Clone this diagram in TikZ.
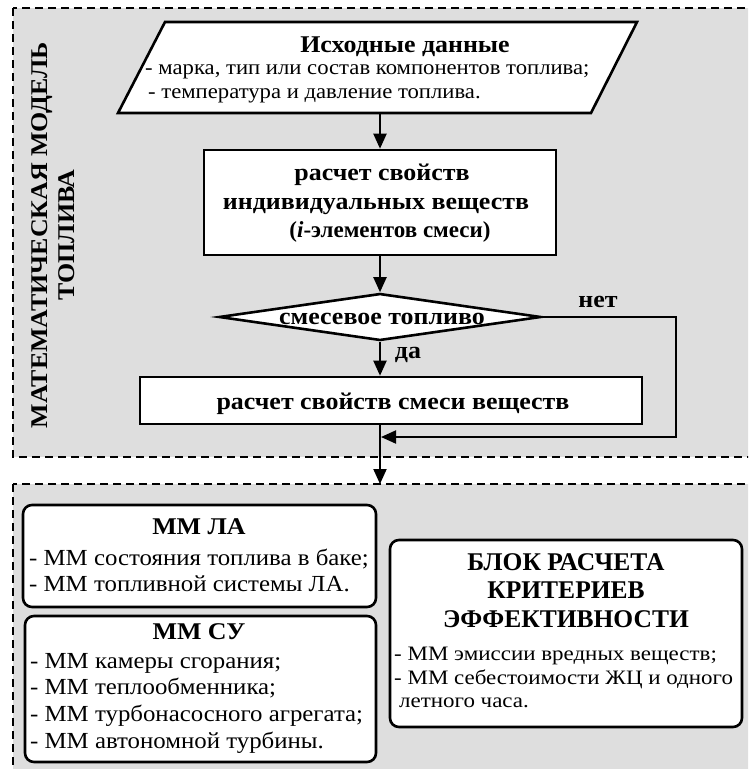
\documentclass[tikz,border=0pt]{standalone}
\usepackage{fontspec}
\setmainfont{Liberation Serif}
\newfontfamily\fa[FakeStretch=1.08]{Liberation Serif}
\newfontfamily\fk[FakeStretch=1.12]{Liberation Serif}
\usetikzlibrary{arrows.meta,shapes.geometric,fit}
\begin{document}
\begin{tikzpicture}[x=1pt,y=-1pt,
  frame/.style={draw=black,line width=2.6pt,dash pattern=on 8pt off 5pt,fill=black!13},
  blk/.style={draw=black,line width=2.6pt,fill=white,inner sep=0pt},
  rblk/.style={blk,rounded corners=9pt},
  arr/.style={line width=2pt,-{Triangle[length=15pt,width=13pt]}},
  ta/.style={inner sep=0pt,font=\fa\fontsize{21}{24}\selectfont},
  tb/.style={inner sep=0pt,font=\fa\bfseries\fontsize{24}{28}\selectfont},
  td/.style={inner sep=0pt,font=\fa\fontsize{23}{26}\selectfont},
  tdb/.style={inner sep=0pt,font=\fa\bfseries\fontsize{24}{26}\selectfont},
  tkb/.style={inner sep=0pt,font=\rmfamily\bfseries\fontsize{25.5}{28}\selectfont},
  tk/.style={inner sep=0pt,font=\fk\fontsize{20.5}{24}\selectfont},
]
\clip (0,0) rectangle (748,769);
\fill[white] (0,0) rectangle (748,769);
\draw[frame] (13,8) rectangle (775,457);
\draw[frame] (13,484) rectangle (775,790);
\coordinate (lowtop) at (380,484);

% vertical title
\node[inner sep=0pt,rotate=90,align=center,font=\fa\bfseries\fontsize{24}{26.5}\selectfont] (vt) at (53,235) {МАТЕМАТИЧЕСКАЯ МОДЕЛЬ\\ТОПЛИВА};

% input parallelogram
\draw[blk] (165,22) -- (637,22) -- (591,113) -- (118,113) -- cycle;
\coordinate (inbot) at (380,113);
\node[tb,anchor=base] (int) at (405,52) {Исходные данные};
\node[ta,anchor=base west] (in1) at (145,74) {- марка, тип или состав компонентов топлива;};
\node[ta,anchor=base west] (in2) at (148,98) {- температура и давление топлива.};

% individual properties
\node[blk,fit={(204,150) (556,255)}] (b2) {};
\node[tb,anchor=base] (b2a) at (382,180) {расчет свойств};
\node[tb,anchor=base] (b2b) at (376,209) {индивидуальных веществ};
\node[tb,anchor=base,font=\rmfamily\bfseries\fontsize{23}{28}\selectfont] (b2c) at (390,237) {(\textit{i}-элементов смеси)};

% decision
\node[blk,diamond,inner sep=1pt,minimum width=322pt,minimum height=47pt] (dia) at (380,317) {};
\node[tb,anchor=base] (diat) at (382,324) {смесевое топливо};
\node[tb,anchor=base] (no) at (598,307) {нет};
\node[tb,anchor=base] (yes) at (408,358) {да};

% mixture
\node[blk,fit={(140,377) (642,424)}] (b3) {};
\node[tb,anchor=base] (b3t) at (393,409) {расчет свойств смеси веществ};

\coordinate (turn) at (676,437);
\coordinate (join) at (380,437);

\draw[arr] (inbot) -- (b2.north);
\draw[arr] (b2.south) -- (dia.north);
\draw[arr] (dia.south) -- (dia.south |- b3.north);
\draw[arr,shorten >=1pt] (dia.east) -| (turn) -- (join);
\draw[arr] (b3.south -| join) -- (lowtop);

% lower blocks
\node[rblk,fit={(23,505) (376,607)}] (la) {};
\node[tdb,anchor=base] (lat) at (199,534) {ММ ЛА};
\node[td,anchor=base west] (la1) at (29,565) {- ММ состояния топлива в баке;};
\node[td,anchor=base west] (la2) at (29,591) {- ММ топливной системы ЛА.};

\node[rblk,fit={(25,616) (376,762)}] (su) {};
\node[tdb,anchor=base] (sut) at (199,639) {ММ СУ};
\node[td,anchor=base west] (su1) at (30,668) {- ММ камеры сгорания;};
\node[td,anchor=base west] (su2) at (30,694) {- ММ теплообменника;};
\node[td,anchor=base west] (su3) at (30,721) {- ММ турбонасосного агрегата;};
\node[td,anchor=base west] (su4) at (30,748) {- ММ автономной турбины.};

\node[rblk,fit={(390,540) (742,727)}] (kr) {};
\node[tkb,anchor=base] (kr1) at (566,570) {БЛОК РАСЧЕТА};
\node[tkb,anchor=base] (kr2) at (566,598) {КРИТЕРИЕВ};
\node[tkb,anchor=base] (kr3) at (566,627) {ЭФФЕКТИВНОСТИ};
\node[tk,anchor=base west] (kr4) at (394,660) {- ММ эмиссии вредных веществ;};
\node[tk,anchor=base west] (kr5) at (394,684) {- ММ себестоимости ЖЦ и одного};
\node[tk,anchor=base west] (kr6) at (399,707) {летного часа.};
\end{tikzpicture}
\end{document}
